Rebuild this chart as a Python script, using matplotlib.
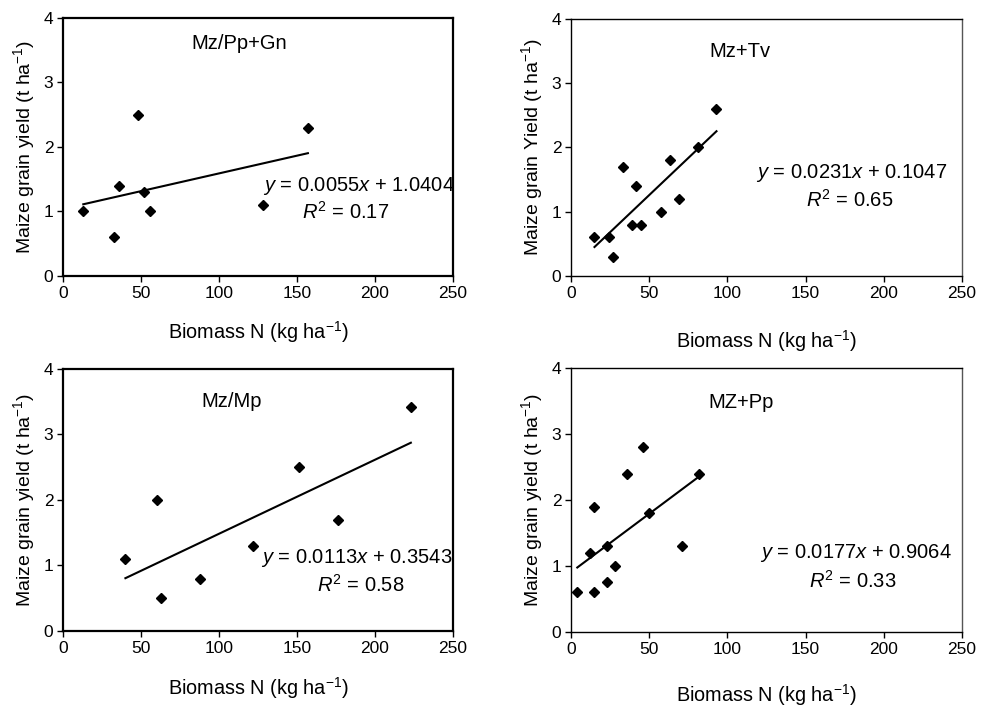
import matplotlib
matplotlib.use("Agg")
import matplotlib.pyplot as plt
import numpy as np

plt.rcParams['font.family'] = ['Liberation Sans', 'DejaVu Sans']
plt.rcParams['mathtext.fontset'] = 'custom'
plt.rcParams['mathtext.rm'] = 'Liberation Sans'
plt.rcParams['mathtext.it'] = 'Liberation Sans:italic'

# Daten der vier Teilabbildungen
x_pp_gn = [13, 33, 36, 48, 52, 56, 128, 157]
y_pp_gn = [1.0, 0.6, 1.4, 2.5, 1.3, 1.0, 1.1, 2.3]

x_tv = [15, 24, 27, 33, 39, 41.5, 45, 57.5, 63, 69, 81, 93]
y_tv = [0.6, 0.6, 0.3, 1.7, 0.8, 1.4, 0.8, 1.0, 1.8, 1.2, 2.0, 2.6]

x_mp = [40, 60, 63, 88, 122, 151, 176, 223]
y_mp = [1.1, 2.0, 0.5, 0.8, 1.3, 2.5, 1.7, 3.42]

x_pp = [4, 12, 15, 15, 23, 23, 28, 36, 46, 50, 71, 82]
y_pp = [0.6, 1.2, 0.6, 1.9, 1.3, 0.75, 1.0, 2.4, 2.8, 1.8, 1.3, 2.4]

titles = ["Mz/Pp+Gn", "Mz+Tv", "Mz/Mp", "MZ+Pp"]
slopes = [0.0055, 0.0231, 0.0113, 0.0177]
intercepts = [1.0404, 0.1047, 0.3543, 0.9064]
r2_labels = ["0.17", "0.65", "0.58", "0.33"]
ylabels = ["Maize grain yield (t ha$^{-1}$)", "Maize grain Yield (t ha$^{-1}$)",
           "Maize grain yield (t ha$^{-1}$)", "Maize grain yield (t ha$^{-1}$)"]
xlabel = "Biomass N (kg ha$^{\u22121}$)"

datasets = [(x_pp_gn, y_pp_gn), (x_tv, y_tv), (x_mp, y_mp), (x_pp, y_pp)]

# Lage der Achsen in Bildanteilen [links, unten, breite, hoehe]
positions = [[0.0641, 0.6129, 0.3967, 0.3619],
             [0.5809, 0.6129, 0.3978, 0.3605],
             [0.0641, 0.1150, 0.3967, 0.3675],
             [0.5809, 0.1136, 0.3978, 0.3703]]
spine_lw = [1.6, 1.0, 1.6, 1.0]
# Textpositionen in Datenkoordinaten: Titel, Gleichung, R^2
title_pos = [(113, 3.6), (108, 3.49), (108, 3.5), (109, 3.48)]
eq_pos = [(128, 1.40), (118, 1.60), (127, 1.11), (121, 1.20)]
r2_pos = [(153, 0.99), (150, 1.18), (163, 0.70), (152, 0.77)]
xlabel_pad = [13, 20, 14, 18]

fig = plt.figure(figsize=(9.83, 7.13), dpi=100)

for i, (xs, ys) in enumerate(datasets):
    ax = fig.add_axes(positions[i])
    ax.plot(xs, ys, linestyle='none', marker='D', color='black', markersize=5.3)
    xl = np.array([min(xs), max(xs)])
    ax.plot(xl, slopes[i] * xl + intercepts[i], color='black', linewidth=1.5)

    ax.text(*title_pos[i], titles[i], ha='center', va='center', fontsize=14.5)
    ax.text(*eq_pos[i], "$y$ = %.4f$x$ + %.4f" % (slopes[i], intercepts[i]),
            ha='left', va='center', fontsize=14.5)
    ax.text(*r2_pos[i], "$R^2$ = " + r2_labels[i], ha='left', va='center', fontsize=14.5)

    ax.set_xlim(0, 250)
    ax.set_ylim(0, 4)
    ax.set_xticks([0, 50, 100, 150, 200, 250])
    ax.set_yticks([0, 1, 2, 3, 4])
    ax.tick_params(direction='out', length=4, width=1, labelsize=12.5, pad=3)
    for s in ax.spines.values():
        s.set_linewidth(spine_lw[i])
    if i in (1, 3):
        ax.spines['right'].set_color('#555555')
    ax.set_xlabel(xlabel, fontsize=14.3, labelpad=xlabel_pad[i])
    ax.set_ylabel(ylabels[i], fontsize=14, labelpad=5)

fig.savefig("out.png", dpi=100)
